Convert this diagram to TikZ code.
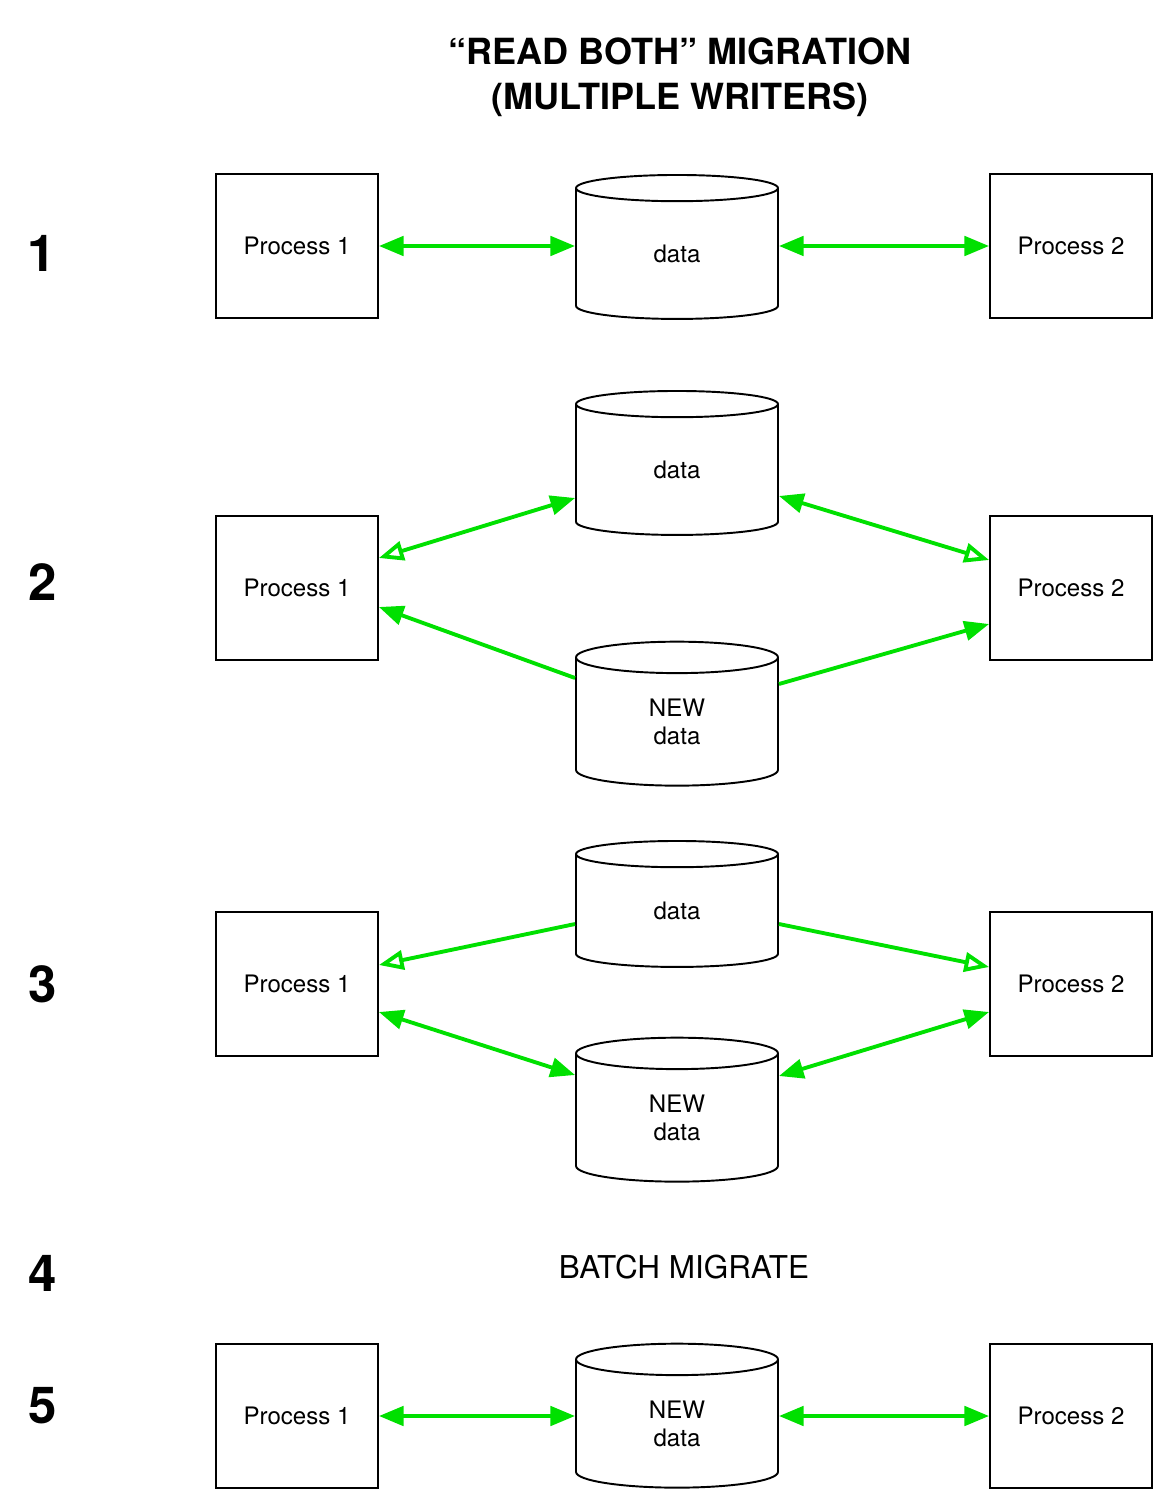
\documentclass[tikz,border=0pt]{standalone}
\usepackage{fontspec}
\setmainfont{TeX Gyre Heros}
\usetikzlibrary{shapes.geometric,arrows.meta,calc}
\definecolor{flowgreen}{RGB}{0,224,0}
\tikzset{
  process/.style={draw, line width=1.1pt, minimum width=3.24cm, minimum height=2.88cm,
    inner sep=0pt, font=\fontsize{13.7}{16}\selectfont},
  store/.style={draw, cylinder, shape border rotate=90, aspect=0.56, line width=1.1pt,
    minimum width=4.04cm, minimum height=2.88cm, inner sep=0pt, align=center,
    font=\fontsize{13.7}{16}\selectfont},
  stage/.style={font=\fontsize{29}{35}\bfseries},
  link/.style={flowgreen, line width=2.2pt},
  solidhead/.tip={Triangle[length=14pt,width=11pt]},
  hollowhead/.tip={Triangle[open,length=14pt,width=11pt]}
}
\begin{document}
\begin{tikzpicture}[x=0.02cm, y=-0.02cm]
    \useasboundingbox (0, 0) rectangle (1174, 1510);
    % title
    \node [align=center, font=\fontsize{20.5}{25.5}\bfseries] (title) at (680, 77)
      {“READ BOTH” MIGRATION\\(MULTIPLE WRITERS)};
    % stage numbers
    \node [stage] (n1) at (42, 253) {1};
    \node [stage] (n2) at (43, 582) {2};
    \node [stage] (n3) at (43, 984) {3};
    \node [stage] (n4) at (43, 1273) {4};
    \node [stage] (n5) at (43, 1406) {5};
    % stage 1
    \node [process] (a1) at (297, 246) {Process 1};
    \node [store] (ad) at (677, 254) {data};
    \node [process] (a2) at (1071, 246) {Process 2};
    \draw [link, solidhead-solidhead] (a1.east) -- ($(ad.west)+(0,-8)$);
    \draw [link, solidhead-solidhead] ($(ad.east)+(0,-8)$) -- (a2.west);
    % stage 2
    \node [process] (b1) at (297, 588) {Process 1};
    \node [store] (bd) at (677, 470) {data};
    \node [store] (bn) at (677, 722) {NEW\\data};
    \node [process] (b2) at (1071, 588) {Process 2};
    \draw [link, hollowhead-solidhead] ($(b1.east)+(0,-30)$) -- ($(bd.west)+(0,28)$);
    \draw [link, -solidhead] ($(bn.west)+(0,-44)$) -- ($(b1.east)+(0,19)$);
    \draw [link, solidhead-hollowhead] ($(bd.east)+(0,26)$) -- ($(b2.west)+(0,-28)$);
    \draw [link, -solidhead] ($(bn.east)+(0,-38)$) -- ($(b2.west)+(0,36)$);
    % stage 3
    \node [process] (c1) at (297, 984) {Process 1};
    \node [store, minimum height=2.52cm] (cd) at (677, 911) {data};
    \node [store] (cn) at (677, 1118) {NEW\\data};
    \node [process] (c2) at (1071, 984) {Process 2};
    \draw [link, -hollowhead] ($(cd.west)+(0,13)$) -- ($(c1.east)+(0,-19)$);
    \draw [link, -hollowhead] ($(cd.east)+(0,13)$) -- ($(c2.west)+(0,-17)$);
    \draw [link, solidhead-solidhead] ($(c1.east)+(0,28)$) -- ($(cn.west)+(0,-43)$);
    \draw [link, solidhead-solidhead] ($(cn.east)+(0,-42)$) -- ($(c2.west)+(0,28)$);
    % stage 4
    \node [font=\fontsize{17.9}{21}\selectfont] (batch) at (684, 1267) {BATCH MIGRATE};
    % stage 5
    \node [process] (e1) at (297, 1416) {Process 1};
    \node [store] (en) at (677, 1424) {NEW\\data};
    \node [process] (e2) at (1071, 1416) {Process 2};
    \draw [link, solidhead-solidhead] (e1.east) -- ($(en.west)+(0,-8)$);
    \draw [link, solidhead-solidhead] ($(en.east)+(0,-8)$) -- (e2.west);
\end{tikzpicture}
\end{document}
